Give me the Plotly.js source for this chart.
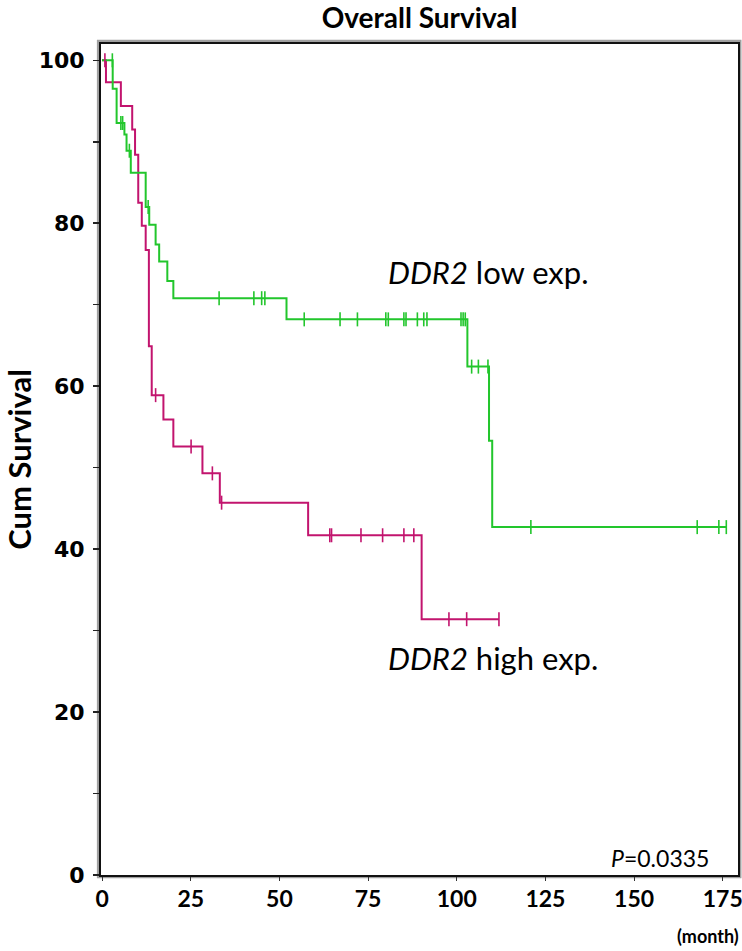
<!DOCTYPE html>
<html>
<head>
<meta charset="utf-8">
<script src="https://cdn.plot.ly/plotly-3.0.1.min.js"></script>
<style>html,body{margin:0;padding:0;background:#fff;}#chart{width:742px;height:951px;}</style>
</head>
<body>
<div id="chart"></div>
<script>
// Low-expression group (green): step times (months) and survival (%) after each step
const lowTimes = [0, 3.0, 4.1, 6.3, 6.9, 8.1, 12.3, 13.3, 15.1, 16.1, 18.4, 20.1, 52.0, 103.0, 109.1, 110.0];
const lowSurv  = [100, 96.5, 92.3, 90.9, 88.9, 86.2, 82.0, 79.8, 77.4, 75.3, 72.9, 70.8, 68.2, 62.4, 53.3, 42.7];
const lowCensor = [2.9, 5.3, 5.8, 7.7, 13.0, 33.0, 42.8, 45.0, 45.9, 57.0, 67.1, 72.0, 80.0, 80.7, 85.1, 85.7, 88.9, 90.7, 91.6, 101.2, 101.8, 102.4, 104.2, 106.1, 108.8, 120.9, 167.8, 173.9, 176.0];

// High-expression group (magenta)
const highTimes = [0, 1.1, 5.3, 8.5, 9.3, 10.2, 11.2, 12.3, 13.2, 14.0, 17.3, 20.1, 28.3, 33.2, 58.1, 90.1];
const highSurv  = [100, 97.3, 94.4, 91.5, 88.4, 82.5, 79.7, 76.7, 64.9, 58.9, 55.9, 52.6, 49.3, 45.7, 41.7, 31.4];
const highCensor = [0.8, 15.1, 25.1, 31.1, 33.7, 64.2, 64.7, 73.0, 79.1, 85.1, 87.9, 97.8, 102.8, 111.9];

const xTickVals = [0, 25, 50, 75, 100, 125, 150, 175];
const yTickVals = [0, 10, 20, 30, 40, 50, 60, 70, 80, 90, 100];
const yTickText = ['0', '', '20', '', '40', '', '60', '', '80', '', '100'];

const GREEN = '#22c62c';
const PINK = '#c2146e';

function survAt(times, surv, t) {
  let v = surv[0];
  for (let i = 0; i < times.length; i++) { if (times[i] <= t) v = surv[i]; }
  return v;
}
function stepTrace(times, surv, censor, color) {
  const endT = Math.max(censor[censor.length - 1], times[times.length - 1]);
  const xs = times.concat([endT]);
  const ys = surv.concat([surv[surv.length - 1]]);
  return {x: xs, y: ys, mode: 'lines', line: {shape: 'hv', color: color, width: 2}, hoverinfo: 'skip', showlegend: false};
}
function censorTrace(times, surv, censor, color) {
  return {x: censor, y: censor.map(t => survAt(times, surv, t)), mode: 'markers',
    marker: {symbol: 'line-ns', size: 10, color: color, line: {color: color, width: 1.6}},
    hoverinfo: 'skip', showlegend: false};
}

const data = [
  stepTrace(highTimes, highSurv, highCensor, PINK),
  stepTrace(lowTimes, lowSurv, lowCensor, GREEN),
  censorTrace(highTimes, highSurv, highCensor, PINK),
  censorTrace(lowTimes, lowSurv, lowCensor, GREEN)
];

const cal = 'Lato, Liberation Sans, Arial, sans-serif';
const layout = {
  width: 742, height: 951,
  margin: {l: 101, r: 4, t: 44, b: 76},
  paper_bgcolor: '#fff', plot_bgcolor: '#fff',
  title: {text: 'Overall Survival', x: 0.5655, xanchor: 'center', y: 0.981, yanchor: 'middle',
    font: {family: cal, size: 28, weight: 'bold', color: '#000'}},
  xaxis: {range: [-0.3, 179.3], tickvals: xTickVals, ticktext: xTickVals.map(String),
    showgrid: false, zeroline: false, showline: true, linecolor: '#111', linewidth: 2, mirror: true,
    ticks: 'outside', ticklen: 4, tickwidth: 1, tickcolor: '#333',
    ticklabelstandoff: -2, ticklabeloverflow: 'allow',
    tickfont: {family: cal, size: 23, weight: 'bold', color: '#000'}},
  yaxis: {range: [0, 102], tickvals: yTickVals, ticktext: yTickText,
    showgrid: false, zeroline: false, showline: true, linecolor: '#111', linewidth: 2, mirror: true,
    ticks: 'outside', ticklen: 6, tickwidth: 1.5, tickcolor: '#222',
    ticklabelstandoff: 4,
    tickfont: {family: 'DejaVu Sans, sans-serif', size: 22, weight: 'bold', color: '#000'},
    title: {text: 'Cum Survival', standoff: 23, font: {family: cal, size: 31, weight: 'bold', color: '#000'}}},
  shapes: [
    {type: 'rect', xref: 'paper', yref: 'paper', x0: -0.0045, x1: 1.0035, y0: -0.0025, y1: 1.0035,
      line: {color: '#a0a0a0', width: 2.5}, layer: 'below'}
  ],
  annotations: [
    {text: '<i>DDR2</i> low exp.', xref: 'x', yref: 'y', x: 80.0, y: 74.0, xanchor: 'left', yanchor: 'middle',
      showarrow: false, font: {family: cal, size: 31, color: '#000'}},
    {text: '<i>DDR2</i> high exp.', xref: 'x', yref: 'y', x: 80.0, y: 26.6, xanchor: 'left', yanchor: 'middle',
      showarrow: false, font: {family: cal, size: 31, color: '#000'}},
    {text: '<i>P</i>=0.0335', xref: 'x', yref: 'y', x: 143.0, y: 2.1, xanchor: 'left', yanchor: 'middle',
      showarrow: false, font: {family: cal, size: 23, color: '#000'}},
    {text: '(month)', xref: 'paper', yref: 'paper', x: 1.005, y: -0.074, xanchor: 'right', yanchor: 'middle',
      showarrow: false, font: {family: cal, size: 18, weight: 'bold', color: '#000'}}
  ]
};

Plotly.newPlot('chart', data, layout, {displayModeBar: false, staticPlot: true});
</script>
</body>
</html>
